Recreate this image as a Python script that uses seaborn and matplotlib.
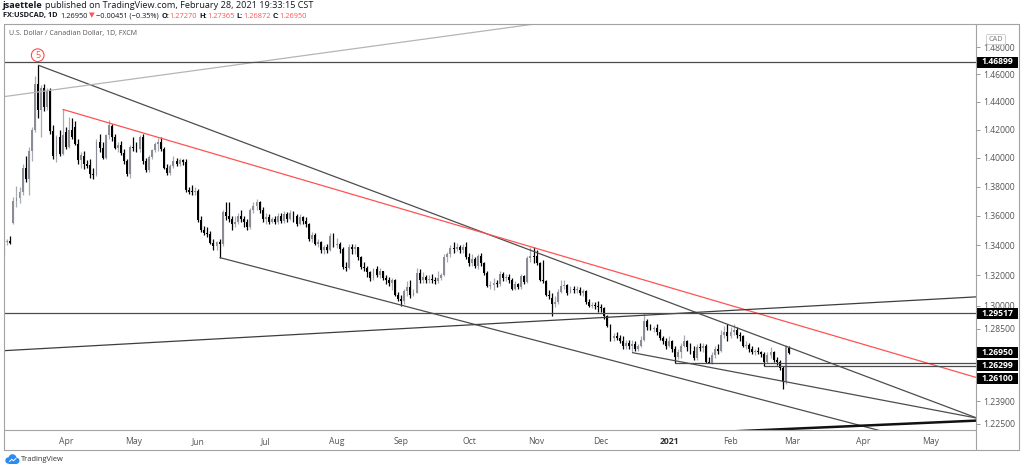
import numpy as np
import pandas as pd
import matplotlib
matplotlib.use("Agg")
import matplotlib.pyplot as plt
import matplotlib.ticker as mticker
from matplotlib.patches import Rectangle, Circle, FancyBboxPatch
import seaborn as sns

sns.set_theme(style="white")
plt.rcParams['font.family'] = ['Open Sans', 'DejaVu Sans']

# ---------------- data (USD/CAD daily, FXCM) ----------------
holidays = ["2020-12-25", "2021-01-01"]
dates = pd.bdate_range("2020-03-03", "2021-02-26")
dates = dates[~dates.isin(pd.to_datetime(holidays))]

opens = [
    1.3400, 1.3370, 1.3420, 1.3430, 1.3550, 1.3700, 1.3720, 1.3765, 1.3930, 1.3850, 1.4050, 1.4200, 1.4530, 1.4340, 1.4500, 1.4360, 1.4480, 1.4190, 1.4010, 1.4145, 1.4030,
    1.4185, 1.4080, 1.4195, 1.4220, 1.4100, 1.3985, 1.4010, 1.3960, 1.3950, 1.3890, 1.3880, 1.4110, 1.4070, 1.4000, 1.4160, 1.4225, 1.4150, 1.4070, 1.4090, 1.4035, 1.3975, 1.3885,
    1.4075, 1.4070, 1.4060, 1.4150, 1.3975, 1.3915, 1.4005, 1.4055, 1.4100, 1.4110, 1.4060, 1.3930, 1.3895, 1.3945, 1.3980, 1.3960, 1.3985, 1.3970, 1.3775, 1.3765, 1.3760,
    1.3770, 1.3570, 1.3500, 1.3485, 1.3475, 1.3415, 1.3395, 1.3420, 1.3410, 1.3625, 1.3595, 1.3580, 1.3540, 1.3560, 1.3600, 1.3575, 1.3560, 1.3525, 1.3640, 1.3665, 1.3690, 1.3640,
    1.3575, 1.3590, 1.3560, 1.3575, 1.3555, 1.3600, 1.3565, 1.3610, 1.3575, 1.3615, 1.3600, 1.3545, 1.3590, 1.3565, 1.3540, 1.3440, 1.3470, 1.3410, 1.3420, 1.3365, 1.3385, 1.3370, 1.3465,
    1.3400, 1.3410, 1.3375, 1.3255, 1.3250, 1.3390, 1.3375, 1.3385, 1.3320, 1.3255, 1.3250, 1.3220, 1.3180, 1.3240, 1.3200, 1.3225, 1.3180, 1.3165, 1.3145, 1.3170, 1.3070,
    1.3045, 1.3030, 1.3095, 1.3120, 1.3070, 1.3085, 1.3215, 1.3165, 1.3185, 1.3170, 1.3175, 1.3165, 1.3160, 1.3180, 1.3200, 1.3320, 1.3340, 1.3380, 1.3375, 1.3390, 1.3370, 1.3385,
    1.3320, 1.3280, 1.3310, 1.3260, 1.3325, 1.3280, 1.3215, 1.3130, 1.3135, 1.3150, 1.3140, 1.3210, 1.3180, 1.3190, 1.3170, 1.3110, 1.3140, 1.3120, 1.3195, 1.3155, 1.3315, 1.3330,
    1.3330, 1.3280, 1.3170, 1.3160, 1.3070, 1.3050, 1.3010, 1.3020, 1.3090, 1.3130, 1.3135, 1.3085, 1.3110, 1.3100, 1.3105, 1.3080, 1.3095, 1.3020, 1.3000, 1.3005, 1.2995,
    1.2990, 1.2985, 1.2930, 1.2870, 1.2790, 1.2800, 1.2790, 1.2770, 1.2740, 1.2760, 1.2740, 1.2750, 1.2720, 1.2740, 1.2780, 1.2900, 1.2860, 1.2850, 1.2855, 1.2830, 1.2790, 1.2770,
    1.2740, 1.2770, 1.2720, 1.2670, 1.2700, 1.2740, 1.2770, 1.2730, 1.2710, 1.2660, 1.2730, 1.2725, 1.2740, 1.2640, 1.2630, 1.2680, 1.2720, 1.2710, 1.2810, 1.2830,
    1.2800, 1.2830, 1.2840, 1.2810, 1.2800, 1.2740, 1.2745, 1.2720, 1.2700, 1.2710, 1.2700, 1.2690, 1.2635, 1.2680, 1.2700, 1.2650, 1.2635, 1.2600, 1.2510, 1.2727,
]
highs = [
    1.3460, 1.3445, 1.3440, 1.3460, 1.3730, 1.3805, 1.3800, 1.3960, 1.4010, 1.4080, 1.4220, 1.4585, 1.4667, 1.4520, 1.4530, 1.4500, 1.4500, 1.4230, 1.4160, 1.4200, 1.4345,
    1.4220, 1.4292, 1.4280, 1.4260, 1.4130, 1.4040, 1.4050, 1.3985, 1.3990, 1.3930, 1.4130, 1.4170, 1.4110, 1.4170, 1.4265, 1.4240, 1.4170, 1.4110, 1.4120, 1.4060, 1.3995, 1.4090,
    1.4150, 1.4110, 1.4160, 1.4170, 1.4000, 1.4020, 1.4065, 1.4110, 1.4140, 1.4150, 1.4080, 1.3960, 1.3960, 1.4010, 1.4000, 1.4000, 1.3995, 1.3990, 1.3800, 1.3810, 1.3800,
    1.3785, 1.3595, 1.3530, 1.3520, 1.3495, 1.3440, 1.3430, 1.3440, 1.3640, 1.3690, 1.3690, 1.3600, 1.3600, 1.3620, 1.3640, 1.3600, 1.3580, 1.3650, 1.3690, 1.3715, 1.3700, 1.3660,
    1.3620, 1.3610, 1.3590, 1.3600, 1.3620, 1.3615, 1.3630, 1.3625, 1.3640, 1.3630, 1.3610, 1.3610, 1.3600, 1.3590, 1.3550, 1.3490, 1.3480, 1.3440, 1.3430, 1.3400, 1.3410, 1.3480, 1.3480,
    1.3450, 1.3420, 1.3385, 1.3290, 1.3410, 1.3410, 1.3410, 1.3390, 1.3330, 1.3290, 1.3260, 1.3230, 1.3250, 1.3260, 1.3250, 1.3230, 1.3200, 1.3190, 1.3180, 1.3175, 1.3090,
    1.3070, 1.3110, 1.3160, 1.3165, 1.3110, 1.3250, 1.3240, 1.3220, 1.3200, 1.3200, 1.3210, 1.3190, 1.3230, 1.3215, 1.3340, 1.3355, 1.3400, 1.3420, 1.3415, 1.3400, 1.3410, 1.3420,
    1.3350, 1.3340, 1.3320, 1.3340, 1.3350, 1.3290, 1.3225, 1.3160, 1.3180, 1.3170, 1.3225, 1.3220, 1.3210, 1.3205, 1.3180, 1.3160, 1.3150, 1.3210, 1.3200, 1.3330, 1.3390, 1.3385,
    1.3370, 1.3290, 1.3300, 1.3170, 1.3100, 1.3080, 1.3060, 1.3110, 1.3170, 1.3165, 1.3140, 1.3130, 1.3130, 1.3130, 1.3120, 1.3110, 1.3100, 1.3040, 1.3020, 1.3020, 1.3030,
    1.3010, 1.2990, 1.2940, 1.2880, 1.2820, 1.2830, 1.2810, 1.2800, 1.2780, 1.2775, 1.2775, 1.2770, 1.2750, 1.2800, 1.2952, 1.2910, 1.2880, 1.2870, 1.2880, 1.2850, 1.2800, 1.2790,
    1.2800, 1.2780, 1.2740, 1.2720, 1.2760, 1.2810, 1.2780, 1.2760, 1.2740, 1.2750, 1.2760, 1.2760, 1.2750, 1.2670, 1.2700, 1.2740, 1.2750, 1.2840, 1.2870, 1.2880,
    1.2860, 1.2880, 1.2860, 1.2830, 1.2810, 1.2770, 1.2760, 1.2740, 1.2720, 1.2730, 1.2710, 1.2700, 1.2700, 1.2730, 1.2710, 1.2670, 1.2650, 1.2610, 1.2745, 1.27365,
]
lows = [
    1.3330, 1.3330, 1.3400, 1.3405, 1.3540, 1.3660, 1.3685, 1.3740, 1.3830, 1.3740, 1.3980, 1.4180, 1.4280, 1.4150, 1.4330, 1.4340, 1.4170, 1.3990, 1.3970, 1.4010, 1.4020,
    1.4060, 1.4070, 1.4130, 1.4090, 1.3960, 1.3930, 1.3920, 1.3930, 1.3860, 1.3850, 1.3870, 1.4040, 1.3990, 1.3995, 1.4130, 1.4120, 1.4060, 1.4040, 1.4020, 1.3960, 1.3870, 1.3860,
    1.4050, 1.4040, 1.4040, 1.3960, 1.3900, 1.3900, 1.3990, 1.4040, 1.4050, 1.4050, 1.3920, 1.3880, 1.3880, 1.3930, 1.3940, 1.3940, 1.3950, 1.3760, 1.3750, 1.3740, 1.3740,
    1.3560, 1.3490, 1.3470, 1.3455, 1.3405, 1.3365, 1.3370, 1.3317, 1.3395, 1.3570, 1.3560, 1.3500, 1.3520, 1.3540, 1.3560, 1.3520, 1.3500, 1.3510, 1.3620, 1.3640, 1.3620, 1.3560,
    1.3540, 1.3540, 1.3550, 1.3540, 1.3545, 1.3550, 1.3550, 1.3560, 1.3570, 1.3560, 1.3530, 1.3535, 1.3540, 1.3520, 1.3430, 1.3420, 1.3400, 1.3390, 1.3350, 1.3340, 1.3350, 1.3360, 1.3390,
    1.3380, 1.3350, 1.3240, 1.3230, 1.3240, 1.3340, 1.3340, 1.3300, 1.3240, 1.3230, 1.3190, 1.3160, 1.3170, 1.3190, 1.3180, 1.3170, 1.3140, 1.3130, 1.3100, 1.3060, 1.3030,
    1.2995, 1.3010, 1.3060, 1.3050, 1.3060, 1.3080, 1.3150, 1.3150, 1.3150, 1.3150, 1.3150, 1.3140, 1.3150, 1.3170, 1.3195, 1.3290, 1.3320, 1.3350, 1.3360, 1.3350, 1.3350, 1.3310,
    1.3260, 1.3260, 1.3250, 1.3240, 1.3260, 1.3200, 1.3120, 1.3110, 1.3100, 1.3120, 1.3130, 1.3160, 1.3160, 1.3150, 1.3100, 1.3100, 1.3110, 1.3110, 1.3140, 1.3150, 1.3290, 1.3280,
    1.3270, 1.3160, 1.3150, 1.3060, 1.3040, 1.2935, 1.2990, 1.3010, 1.3080, 1.3110, 1.3070, 1.3080, 1.3080, 1.3080, 1.3070, 1.3060, 1.3010, 1.2990, 1.2985, 1.2980, 1.2960,
    1.2960, 1.2910, 1.2860, 1.2770, 1.2770, 1.2780, 1.2760, 1.2720, 1.2720, 1.2720, 1.2702, 1.2710, 1.2705, 1.2730, 1.2770, 1.2840, 1.2840, 1.2830, 1.2810, 1.2780, 1.2750, 1.2720,
    1.2730, 1.2700, 1.2630, 1.2655, 1.2660, 1.2730, 1.2710, 1.2690, 1.2650, 1.2650, 1.2710, 1.2700, 1.2630, 1.2628, 1.2625, 1.2660, 1.2690, 1.2700, 1.2790, 1.2770,
    1.2790, 1.2810, 1.2790, 1.2770, 1.2730, 1.2720, 1.2700, 1.2690, 1.2680, 1.2685, 1.2670, 1.2610, 1.2630, 1.2660, 1.2640, 1.2620, 1.2585, 1.2468, 1.2500, 1.26872,
]
closes = [
    1.3370, 1.3420, 1.3430, 1.3415, 1.3700, 1.3720, 1.3765, 1.3930, 1.3850, 1.4050, 1.4200, 1.4530, 1.4340, 1.4500, 1.4360, 1.4480, 1.4190, 1.4010, 1.4145, 1.4030, 1.4160,
    1.4080, 1.4195, 1.4145, 1.4100, 1.3985, 1.4020, 1.3960, 1.3940, 1.3890, 1.3880, 1.4110, 1.4070, 1.4000, 1.4160, 1.4230, 1.4150, 1.4070, 1.4090, 1.4035, 1.3975, 1.3885, 1.4075,
    1.4070, 1.4055, 1.4150, 1.3975, 1.3915, 1.4005, 1.4055, 1.4100, 1.4110, 1.4060, 1.3930, 1.3895, 1.3945, 1.3980, 1.3960, 1.3985, 1.3970, 1.3775, 1.3765, 1.3760, 1.3770,
    1.3570, 1.3500, 1.3485, 1.3475, 1.3415, 1.3395, 1.3420, 1.3410, 1.3625, 1.3595, 1.3580, 1.3540, 1.3560, 1.3600, 1.3575, 1.3560, 1.3525, 1.3640, 1.3665, 1.3690, 1.3640, 1.3575,
    1.3590, 1.3560, 1.3575, 1.3555, 1.3600, 1.3565, 1.3610, 1.3575, 1.3615, 1.3600, 1.3545, 1.3590, 1.3565, 1.3540, 1.3440, 1.3470, 1.3410, 1.3420, 1.3365, 1.3385, 1.3370, 1.3465, 1.3400,
    1.3410, 1.3375, 1.3255, 1.3250, 1.3390, 1.3375, 1.3385, 1.3320, 1.3255, 1.3250, 1.3220, 1.3180, 1.3240, 1.3200, 1.3225, 1.3180, 1.3165, 1.3145, 1.3170, 1.3070, 1.3045,
    1.3030, 1.3095, 1.3120, 1.3070, 1.3085, 1.3215, 1.3165, 1.3185, 1.3170, 1.3175, 1.3165, 1.3160, 1.3180, 1.3200, 1.3320, 1.3340, 1.3380, 1.3375, 1.3390, 1.3370, 1.3385, 1.3320,
    1.3280, 1.3310, 1.3260, 1.3325, 1.3280, 1.3215, 1.3130, 1.3135, 1.3150, 1.3140, 1.3210, 1.3180, 1.3190, 1.3170, 1.3110, 1.3140, 1.3120, 1.3195, 1.3155, 1.3315, 1.3330, 1.3320,
    1.3280, 1.3170, 1.3160, 1.3070, 1.3060, 1.3010, 1.3020, 1.3090, 1.3130, 1.3135, 1.3085, 1.3110, 1.3100, 1.3105, 1.3080, 1.3095, 1.3020, 1.3000, 1.3005, 1.2995, 1.2990,
    1.2985, 1.2930, 1.2870, 1.2790, 1.2800, 1.2790, 1.2770, 1.2740, 1.2760, 1.2740, 1.2750, 1.2720, 1.2740, 1.2780, 1.2900, 1.2860, 1.2850, 1.2855, 1.2830, 1.2790, 1.2770, 1.2740,
    1.2770, 1.2720, 1.2670, 1.2700, 1.2740, 1.2770, 1.2730, 1.2710, 1.2660, 1.2730, 1.2725, 1.2740, 1.2640, 1.2630, 1.2680, 1.2720, 1.2710, 1.2810, 1.2830, 1.2800,
    1.2830, 1.2840, 1.2810, 1.2800, 1.2740, 1.2745, 1.2720, 1.2700, 1.2710, 1.2700, 1.2690, 1.2635, 1.2680, 1.2700, 1.2650, 1.2635, 1.2600, 1.2510, 1.2740, 1.2695,
]

# trend-line anchors: (start date, start price, second date, price on line)
trend_lines = {
    "peak":     ("2020-03-19", 1.4667, "2020-10-29", 1.3366),
    "red":      ("2020-03-31", 1.4345, "2020-10-29", 1.3390),
    "channel":  ("2020-06-10", 1.3317, "2021-02-25", 1.2361),
    "dec_low":  ("2020-12-15", 1.2697, "2021-02-25", 1.2512),
}
# lines that run across the whole pane
long_lines = {
    "light":  ("2020-03-04", 1.4437, "2020-10-19", 1.4943),
    "rising": ("2020-03-04", 1.2709, "2021-02-25", 1.2988),
    "bold":   ("2021-02-25", 1.2219, "2021-05-21", 1.2270),
}
h_levels = [1.46899, 1.29517]
h_rays = [(1.26299, "2021-01-06"), (1.26100, "2021-02-16")]

y_ticks = [1.48, 1.46, 1.44, 1.42, 1.40, 1.38, 1.36, 1.34, 1.32, 1.30, 1.285, 1.239, 1.225]
price_tags = [("1.46899", 62), ("1.29517", 313.5), ("1.26950", 352.5), ("1.26299", 365.5), ("1.26100", 378.5)]

# ---------------- layout ----------------
W, H = 1024, 471
fig = plt.figure(figsize=(W / 100, H / 100), dpi=100, facecolor="white")
PL, PR, PT, PB = 4, 975.5, 24, 429.5
ax = fig.add_axes([PL / W, 1 - PB / H, (PR - PL) / W, (PB - PT) / H])
ax.set_facecolor("white")

# business-day calendar (positions incl. future space)
cal = pd.bdate_range("2020-03-03", "2021-06-30")
cal = cal[~cal.isin(pd.to_datetime(holidays))]
pos = {d: i for i, d in enumerate(cal)}
def kx(d):
    return pos[pd.Timestamp(d)]

k = np.array([pos[d] for d in dates], dtype=float)
o = np.array(opens); h = np.array(highs); l = np.array(lows); c = np.array(closes)
up = c >= o

UP_COL = "#8a8d96"
UP_WICK = "#a9abb2"
DN_COL = "#000000"

ax.vlines(k[up], l[up], h[up], color=UP_WICK, lw=0.9, zorder=2)
ax.vlines(k[~up], l[~up], h[~up], color=DN_COL, lw=0.9, zorder=2)
body_lo = np.minimum(o, c)
body_h = np.maximum(np.abs(c - o), 0.0006)
ax.bar(k[up], body_h[up], bottom=body_lo[up], width=0.62, color=UP_COL, linewidth=0, zorder=3)
ax.bar(k[~up], body_h[~up], bottom=body_lo[~up], width=0.62, color=DN_COL, linewidth=0, zorder=3)

ax.set_yscale("log")
YMIN, YMAX = 1.22161, 1.49727
XMIN, XMAX = 0.95, 316.6
ax.set_ylim(YMIN, YMAX)
ax.set_xlim(XMIN, XMAX)

def line_pts(d1, p1, d2, p2, left, right):
    x1, x2 = kx(d1), kx(d2)
    xs = np.array([left, right])
    lp = np.log(p1) + (np.log(p2) - np.log(p1)) * (xs - x1) / (x2 - x1)
    return xs, np.exp(lp)

for name, (d1, p1, d2, p2) in trend_lines.items():
    xs, ys = line_pts(d1, p1, d2, p2, kx(d1), XMAX + 5)
    col = "#ff5252" if name == "red" else "#4d4d4d"
    ax.plot(xs, ys, color=col, lw=0.9, zorder=4, solid_capstyle="butt")
for name, (d1, p1, d2, p2) in long_lines.items():
    xs, ys = line_pts(d1, p1, d2, p2, XMIN - 5, XMAX + 5)
    if name == "light":
        ax.plot(xs, ys, color="#b5b5b5", lw=0.9, zorder=4)
    elif name == "bold":
        ax.plot(xs, ys, color="#111111", lw=1.8, zorder=4)
    else:
        ax.plot(xs, ys, color="#3d3d3d", lw=0.9, zorder=4)
for lvl in h_levels:
    ax.plot([XMIN - 5, XMAX + 5], [lvl, lvl], color="#4d4d4d", lw=0.9, zorder=4)
for lvl, d in h_rays:
    ax.plot([kx(d), XMAX + 5], [lvl, lvl], color="#4d4d4d", lw=0.9, zorder=4)

# circled wave label "5"
ax.text(kx("2020-03-19") - 0.1, 1.4740, "5", color="#ff4a4a", fontsize=6.6, ha="center", va="center",
        zorder=6, bbox=dict(boxstyle="circle,pad=0.2", fc="white", ec="#ff4a4a", lw=0.8))

# y axis on the right
ax.yaxis.tick_right()
ax.yaxis.set_minor_locator(mticker.NullLocator())
ax.set_yticks(y_ticks)
ax.set_yticklabels([f"{v:.5f}" for v in y_ticks])
ax.tick_params(axis="y", which="major", length=3, width=0.7, color="#9a9a9a", pad=2.2,
               labelsize=6.2, labelcolor="#555555")
ax.yaxis.set_minor_formatter(mticker.NullFormatter())

# x axis months
month_starts = cal.to_series().groupby([cal.year, cal.month]).first()
mpos, mlab = [], []
for d in month_starts:
    p = pos[d]
    if XMIN < p < XMAX - 5:
        mpos.append(p)
        mlab.append("2021" if (d.month == 1) else d.strftime("%b"))
ax.set_xticks(mpos)
ax.set_xticklabels(mlab)
ax.tick_params(axis="x", length=2.5, width=0.7, color="#9a9a9a", pad=2.8, labelsize=6.2, labelcolor="#555555")
for t in ax.get_xticklabels():
    if t.get_text() == "2021":
        t.set_fontweight("bold")
        t.set_color("#333333")
ax.grid(False)
sns.despine(ax=ax, left=True, right=True, top=True, bottom=True)

# ---------------- overlay (pixel coordinates) ----------------
ov = fig.add_axes([0, 0, 1, 1], zorder=10)
ov.set_xlim(0, W); ov.set_ylim(H, 0)
ov.patch.set_alpha(0)
ov.axis("off")

BC = "#a3a3a3"
for (x0, y0, x1, y1) in [(3.5, PT, 1019, PT), (3.5, 450, 1019, 450), (3.5, PT, 3.5, 450),
                          (1019, PT, 1019, 450), (PR, PT, PR, 450), (3.5, PB, PR, PB)]:
    ov.plot([x0, x1], [y0, y1], color=BC, lw=0.8)

# price tags
for txt, y in price_tags:
    ov.add_patch(Rectangle((976, y - 5.5), 42, 11, fc="black", ec="none"))
    ov.text(997, y, txt, color="white", fontsize=6.2, fontweight="bold", ha="center", va="center")

# CAD label
ov.add_patch(FancyBboxPatch((987, 35), 18, 9, boxstyle="round,pad=0.5,rounding_size=1.5",
                            fc="white", ec="#cfcfcf", lw=0.7))
ov.text(996, 39.7, "CAD", color="#777777", fontsize=5.3, ha="center", va="center")

# title inside pane
ov.text(9, 33.5, "U.S. Dollar / Canadian Dollar, 1D, FXCM", color="#555555", fontsize=5.0,
        ha="left", va="center")

renderer = fig.canvas.get_renderer()
def rich(x, y, parts, size):
    for txt, col, wt, gap in parts:
        t = ov.text(x, y, txt, color=col, fontsize=size, fontweight=wt, ha="left", va="center")
        bb = t.get_window_extent(renderer=renderer)
        x += bb.width + gap

DARK = "#131722"
RED = "#ff5252"
rich(3, 6, [("jsaettele", DARK, "bold", 2.4),
            ("published on TradingView.com, February 28, 2021 19:33:15 CST", DARK, "normal", 0)], 6.6)
rich(3, 16, [("FX:USDCAD, 1D", DARK, "bold", 3.0), ("1.26950", DARK, "normal", 1.5),
             ("\u25bc", RED, "normal", 1.5), ("\u22120.00451 (\u22120.35%)", DARK, "normal", 2.5),
             ("O:", DARK, "bold", 0.3), ("1.27270", RED, "normal", 2.0),
             ("H:", DARK, "bold", 0.3), ("1.27365", RED, "normal", 2.0),
             ("L:", DARK, "bold", 0.3), ("1.26872", RED, "normal", 2.0),
             ("C:", DARK, "bold", 0.3), ("1.26950", RED, "normal", 0)], 5.3)

# TradingView logo
BLUE = "#2a8cf0"
for (cx, cy, r) in [(8.5, 460.5, 3.2), (12.5, 458.2, 4.0), (16.5, 460.8, 3.0)]:
    ov.add_patch(Circle((cx, cy), r, fc=BLUE, ec="none"))
ov.add_patch(Rectangle((8.5, 459), 8, 4.7, fc=BLUE, ec="none"))
ov.plot([9.5, 11.8, 13.5, 16], [461.5, 459.3, 460.8, 458.3], color="white", lw=0.7)
ov.text(21, 459.5, "TradingView", color="#333333", fontsize=5.4, ha="left", va="center")

fig.savefig("out.png", dpi=100, facecolor="white")
